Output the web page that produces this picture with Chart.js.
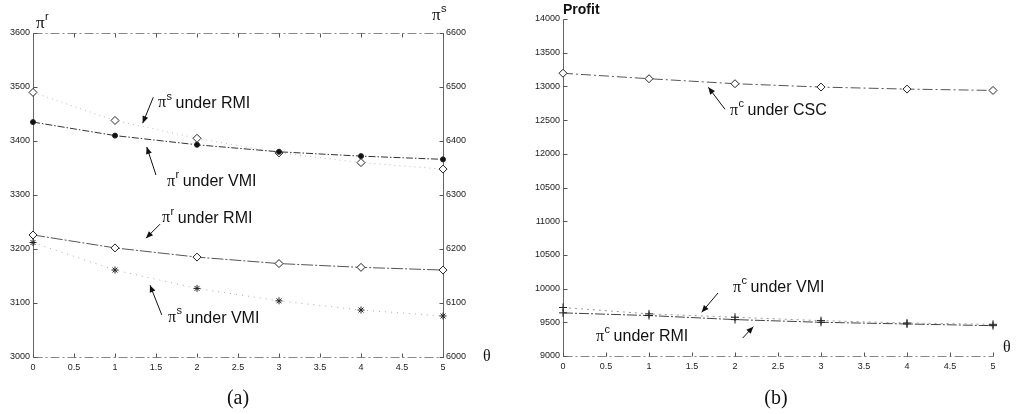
<!DOCTYPE html>
<html>
<head>
<meta charset="utf-8">
<script src="https://cdn.jsdelivr.net/npm/chart.js@4.4.1/dist/chart.umd.min.js"></script>
<style>
  body { margin: 0; background: #fff; width: 1016px; height: 414px; overflow: hidden; position: relative; }
  canvas { position: absolute; top: 0; }
  #panelA { left: 0; }
  #panelB { left: 500px; }
</style>
</head>
<body>
<canvas id="panelA" width="500" height="414"></canvas>
<canvas id="panelB" width="516" height="414"></canvas>
<script>
// theta values shared by both panels
const theta = [0, 1, 2, 3, 4, 5];
const thetaTicks = ['0', '0.5', '1', '1.5', '2', '2.5', '3', '3.5', '4', '4.5', '5'];

// panel (a): retailer profit (left axis) and supplier profit (right axis)
const retailerVMI = [3435, 3410, 3393, 3380, 3372, 3366];
const retailerRMI = [3226, 3202, 3185, 3173, 3166, 3161];
const supplierRMI = [6490, 6438, 6405, 6378, 6360, 6348];
const supplierVMI = [6212, 6161, 6127, 6104, 6087, 6076];
const retailerTicks = ['3000', '3100', '3200', '3300', '3400', '3500', '3600'];
const supplierTicks = ['6000', '6100', '6200', '6300', '6400', '6500', '6600'];

// panel (b): channel profit
const chainCSC = [13195, 13114, 13040, 12990, 12960, 12940];
const chainVMI = [9720, 9625, 9575, 9525, 9490, 9470];
const chainRMI = [9640, 9600, 9540, 9500, 9475, 9450];
const profitTicks = ['9000', '9500', '10000', '10500', '11000', '10500', '12000', '12500', '13000', '13500', '14000'];

const pts = (ys) => theta.map((t, i) => ({ x: t, y: ys[i] }));
const tickText = (labels, min, step) => (v) => labels[Math.round((v - min) / step)];
const tickFont = { family: '"Liberation Sans", Arial', size: 9 };

// frame, inward ticks, arrows and labels
const paperDecor = {
  id: 'paperDecor',
  beforeDatasetsDraw(chart, args, opts) {
    const ctx = chart.ctx, a = chart.chartArea;
    const L = Math.round(a.left) + 0.5, R = Math.round(a.right) + 0.5;
    const T = Math.round(a.top) + 0.5, B = Math.round(a.bottom) + 0.5;
    ctx.save();
    ctx.lineWidth = 1;
    const edge = (style, x1, y1, x2, y2) => {
      if (!style) return;
      ctx.strokeStyle = style === 'solid' ? '#666' : '#888';
      ctx.setLineDash(style === 'solid' ? [] : [9, 3, 2, 3]);
      ctx.beginPath(); ctx.moveTo(x1, y1); ctx.lineTo(x2, y2); ctx.stroke();
    };
    edge(opts.edges.left, L, T, L, B);
    edge(opts.edges.right, R, T, R, B);
    edge(opts.edges.top, L, T, R, T);
    edge(opts.edges.bottom, L, B, R, B);
    ctx.setLineDash([]);
    ctx.strokeStyle = '#555';
    const len = 4;
    const xs = chart.scales.x;
    xs.ticks.forEach(t => {
      const px = Math.round(xs.getPixelForValue(t.value)) + 0.5;
      ctx.beginPath(); ctx.moveTo(px, B); ctx.lineTo(px, B - len); ctx.stroke();
      if (opts.edges.top) { ctx.beginPath(); ctx.moveTo(px, T); ctx.lineTo(px, T + len); ctx.stroke(); }
    });
    ['y', 'y2'].forEach(id => {
      const s = chart.scales[id];
      if (!s) return;
      const onRight = s.position === 'right';
      s.ticks.forEach(t => {
        const py = Math.round(s.getPixelForValue(t.value)) + 0.5;
        const x0 = onRight ? R : L;
        ctx.beginPath(); ctx.moveTo(x0, py); ctx.lineTo(onRight ? x0 - len : x0 + len, py); ctx.stroke();
      });
    });
    ctx.restore();
  },
  afterDatasetsDraw(chart, args, opts) {
    const ctx = chart.ctx;
    const xs = chart.scales.x, ys = chart.scales.y;
    ctx.save();
    ctx.fillStyle = '#111';
    ctx.strokeStyle = '#111';
    ctx.textBaseline = 'middle';
    ctx.textAlign = 'left';
    opts.notes.forEach(n => {
      const tx = xs.getPixelForValue(n.text[0]), ty = ys.getPixelForValue(n.text[1]);
      piLabel(ctx, tx, ty, n.sup, n.rest, 16);
      const x1 = xs.getPixelForValue(n.from[0]), y1 = ys.getPixelForValue(n.from[1]);
      const x2 = xs.getPixelForValue(n.to[0]), y2 = ys.getPixelForValue(n.to[1]);
      arrow(ctx, x1, y1, x2, y2);
    });
    opts.titles.forEach(t => {
      if (t.sup !== undefined) {
        piLabel(ctx, t.x, t.y, t.sup, '', 17);
      } else {
        ctx.font = t.font;
        ctx.textAlign = t.align || 'left';
        ctx.fillText(t.text, t.x, t.y);
        ctx.textAlign = 'left';
      }
    });
    ctx.restore();
  }
};

function piLabel(ctx, x, y, sup, rest, size) {
  ctx.font = size + 'px "Liberation Serif"';
  ctx.fillText('\u03c0', x, y);
  const w = ctx.measureText('\u03c0').width;
  ctx.font = Math.round(size * 0.66) + 'px "Liberation Sans"';
  ctx.fillText(sup, x + w + 0.5, y - size * 0.42);
  const w2 = ctx.measureText(sup).width;
  if (rest) {
    ctx.font = size + 'px "Liberation Sans"';
    ctx.fillText(rest, x + w + w2 + 4, y);
  }
}

function arrow(ctx, x1, y1, x2, y2) {
  const ang = Math.atan2(y2 - y1, x2 - x1);
  ctx.lineWidth = 1;
  ctx.beginPath(); ctx.moveTo(x1, y1); ctx.lineTo(x2, y2); ctx.stroke();
  const hl = 7, hw = 3;
  ctx.beginPath();
  ctx.moveTo(x2, y2);
  ctx.lineTo(x2 - hl * Math.cos(ang) + hw * Math.sin(ang), y2 - hl * Math.sin(ang) - hw * Math.cos(ang));
  ctx.lineTo(x2 - hl * Math.cos(ang) - hw * Math.sin(ang), y2 - hl * Math.sin(ang) + hw * Math.cos(ang));
  ctx.closePath();
  ctx.fill();
}

function series(data, axis, color, dash, style, radius, fill) {
  return {
    data: pts(data),
    yAxisID: axis,
    borderColor: color,
    borderWidth: 1,
    borderDash: dash,
    tension: 0,
    clip: false,
    pointStyle: style,
    pointRadius: radius,
    pointBorderColor: '#222',
    pointBorderWidth: 1,
    pointBackgroundColor: fill
  };
}

// bottom axis, its height fixed so the plot box ends where it should
const thetaAxis = (height) => ({
  type: 'linear', min: 0, max: 5,
  grid: { display: false, drawTicks: false },
  border: { display: false },
  ticks: { stepSize: 0.5, padding: 5, color: '#222', font: tickFont, callback: tickText(thetaTicks, 0, 0.5) },
  afterFit: (s) => { s.height = height; }
});

// panel (a)
new Chart(document.getElementById('panelA'), {
  type: 'line',
  data: {
    datasets: [
      series(retailerVMI, 'y', '#333', [7, 2, 1.5, 2], 'circle', 2.5, '#111'),
      series(retailerRMI, 'y', '#555', [12, 2, 2, 2], 'rectRot', 4, '#fff'),
      series(supplierRMI, 'y2', '#bbb', [1, 4], 'rectRot', 4, '#fff'),
      series(supplierVMI, 'y2', '#aaa', [1, 5], 'star', 3.5, '#111')
    ]
  },
  options: {
    responsive: false,
    animation: false,
    layout: { padding: { top: 33, left: 0, right: 0, bottom: 0 } },
    plugins: {
      legend: { display: false },
      tooltip: { enabled: false },
      paperDecor: {
        edges: { left: 'solid', right: 'solid', top: 'dash', bottom: 'dash' },
        notes: [
          { sup: 's', rest: 'under RMI', text: [1.524, 3470], from: [1.467, 3481], to: [1.338, 3433] },
          { sup: 'r', rest: 'under VMI', text: [1.634, 3324], from: [1.5, 3337], to: [1.387, 3389] },
          { sup: 'r', rest: 'under RMI', text: [1.573, 3257], from: [1.549, 3246], to: [1.378, 3220] },
          { sup: 's', rest: 'under VMI', text: [1.646, 3072], from: [1.57, 3078], to: [1.427, 3133] }
        ],
        titles: [
          { sup: 'r', x: 36, y: 24 },
          { sup: 's', x: 432, y: 16 },
          { text: '\u03b8', x: 483, y: 357, font: '16px "Liberation Serif"' },
          { text: '(a)', x: 238, y: 399, font: '20px "Liberation Serif"', align: 'center' }
        ]
      }
    },
    scales: {
      x: thetaAxis(57),
      y: {
        type: 'linear', position: 'left', min: 3000, max: 3600,
        grid: { display: false, drawTicks: false },
        border: { display: false },
        ticks: { stepSize: 100, padding: 3, color: '#222', font: tickFont, callback: tickText(retailerTicks, 3000, 100) },
        afterFit: (s) => { s.width = 33; }
      },
      y2: {
        type: 'linear', position: 'right', min: 6000, max: 6600,
        grid: { display: false, drawTicks: false },
        border: { display: false },
        ticks: { stepSize: 100, padding: 3, color: '#222', font: tickFont, callback: tickText(supplierTicks, 6000, 100) },
        afterFit: (s) => { s.width = 57; }
      }
    }
  },
  plugins: [paperDecor]
});

// panel (b)
new Chart(document.getElementById('panelB'), {
  type: 'line',
  data: {
    datasets: [
      series(chainCSC, 'y', '#555', [10, 3, 2, 3], 'rectRot', 4, '#fff'),
      series(chainVMI, 'y', '#999', [2, 4], 'cross', 4, '#fff'),
      series(chainRMI, 'y', '#444', [10, 2, 2, 2], 'cross', 4, '#fff')
    ]
  },
  options: {
    responsive: false,
    animation: false,
    layout: { padding: { top: 19, left: 0, right: 23, bottom: 0 } },
    plugins: {
      legend: { display: false },
      tooltip: { enabled: false },
      paperDecor: {
        edges: { left: 'solid', bottom: 'dash' },
        notes: [
          { sup: 'c', rest: 'under CSC', text: [1.942, 12635], from: [1.884, 12660], to: [1.69, 12987] },
          { sup: 'c', rest: 'under VMI', text: [1.977, 10009], from: [1.802, 9935], to: [1.613, 9648] },
          { sup: 'c', rest: 'under RMI', text: [0.384, 9282], from: [2.09, 9267], to: [2.213, 9435] }
        ],
        titles: [
          { text: 'Profit', x: 63, y: 10, font: 'bold 14px "Liberation Sans"' },
          { text: '\u03b8', x: 503, y: 348, font: '16px "Liberation Serif"' },
          { text: '(b)', x: 276, y: 399, font: '20px "Liberation Serif"', align: 'center' }
        ]
      }
    },
    scales: {
      x: thetaAxis(58),
      y: {
        type: 'linear', position: 'left', min: 9000, max: 14000,
        grid: { display: false, drawTicks: false },
        border: { display: false },
        ticks: { stepSize: 500, padding: 3, color: '#222', font: tickFont, callback: tickText(profitTicks, 9000, 500) },
        afterFit: (s) => { s.width = 63; }
      }
    }
  },
  plugins: [paperDecor]
});
</script>
</body>
</html>
